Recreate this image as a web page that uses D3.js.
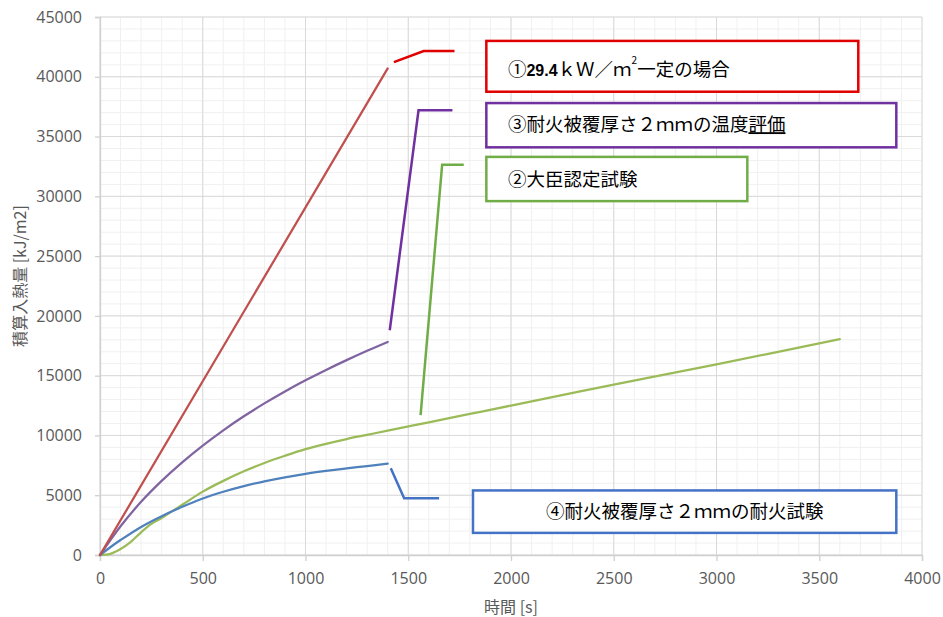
<!DOCTYPE html>
<html>
<head>
<meta charset="utf-8">
<script src="https://cdn.jsdelivr.net/npm/d3@7"></script>
<style>
  body { margin: 0; background: #fff; }
  .tick text { font-family: "Open Sans", "Noto Sans", sans-serif; font-size: 16px; fill: #595959; }
  .label { font-family: "Noto Sans CJK JP", sans-serif; fill: #000; }
</style>
</head>
<body>
<script>
// 時間 [s]
var redTime = [0, 1400];
var redHeat = [0, 40700];

var purpleTime = [0, 100, 200, 300, 400, 500, 600, 700, 800, 900, 1000, 1100, 1200, 1300, 1400];
var purpleHeat = [0, 2400, 4450, 6200, 7750, 9150, 10430, 11600, 12680, 13680, 14610, 15480, 16300, 17080, 17820];

var greenTime = [0, 50, 100, 150, 200, 250, 300, 400, 500, 600, 700, 800, 900, 1000, 1100, 1200, 1300, 1400, 1600, 1800, 2000, 2500, 3000, 3600];
var greenHeat = [0, 100, 500, 1100, 1900, 2600, 3100, 4200, 5300, 6200, 7000, 7700, 8300, 8850, 9300, 9700, 10050, 10400, 11100, 11800, 12500, 14250, 15950, 18050];

var blueTime = [0, 50, 100, 200, 300, 400, 500, 600, 700, 800, 900, 1000, 1100, 1200, 1300, 1400];
var blueHeat = [0, 650, 1250, 2350, 3250, 4030, 4730, 5290, 5760, 6160, 6500, 6790, 7030, 7240, 7440, 7650];

var xTicks = [0, 500, 1000, 1500, 2000, 2500, 3000, 3500, 4000];
var yTicks = [0, 5000, 10000, 15000, 20000, 25000, 30000, 35000, 40000, 45000];

var width = 943, height = 617;
var margin = {top: 17, right: 21, bottom: 62, left: 100};

var svg = d3.select("body").append("svg")
  .attr("width", width)
  .attr("height", height);

var x = d3.scaleLinear().domain([0, 4000]).range([margin.left, width - margin.right]);
var y = d3.scaleLinear().domain([0, 45000]).range([height - margin.bottom, margin.top]);

// minor grid
svg.append("g").selectAll("line")
  .data(d3.range(0, 4001, 100))
  .enter().append("line")
  .attr("x1", function(d) { return x(d); })
  .attr("x2", function(d) { return x(d); })
  .attr("y1", y(0)).attr("y2", y(45000))
  .attr("stroke", "#f0f0f0");
svg.append("g").selectAll("line")
  .data(d3.range(0, 45001, 1000))
  .enter().append("line")
  .attr("y1", function(d) { return y(d); })
  .attr("y2", function(d) { return y(d); })
  .attr("x1", x(0)).attr("x2", x(4000))
  .attr("stroke", "#f0f0f0");

// major grid
svg.append("g").selectAll("line")
  .data(xTicks)
  .enter().append("line")
  .attr("x1", function(d) { return x(d); })
  .attr("x2", function(d) { return x(d); })
  .attr("y1", y(0)).attr("y2", y(45000))
  .attr("stroke", "#d9d9d9");
svg.append("g").selectAll("line")
  .data(yTicks)
  .enter().append("line")
  .attr("y1", function(d) { return y(d); })
  .attr("y2", function(d) { return y(d); })
  .attr("x1", x(0)).attr("x2", x(4000))
  .attr("stroke", "#d9d9d9");

// axes
var xAxis = svg.append("g")
  .attr("transform", "translate(0," + y(0) + ")")
  .call(d3.axisBottom(x).tickValues(xTicks).tickSize(6).tickPadding(12).tickFormat(d3.format("d")));
var yAxis = svg.append("g")
  .attr("transform", "translate(" + x(0) + ",0)")
  .call(d3.axisLeft(y).tickValues(yTicks).tickSize(5).tickPadding(13).tickFormat(d3.format("d")));
svg.selectAll(".domain").attr("stroke", "#d0d0d0").attr("stroke-width", 1.3);
svg.selectAll(".tick line").attr("stroke", "#d0d0d0").attr("stroke-width", 1.3);

// axis titles
svg.append("text")
  .attr("x", (x(0) + x(4000)) / 2)
  .attr("y", 613)
  .attr("text-anchor", "middle")
  .style("font-family", "'Noto Sans CJK JP', sans-serif")
  .style("font-size", "16px")
  .style("fill", "#595959")
  .text("時間 [s]");
svg.append("text")
  .attr("transform", "translate(26," + 276 + ") rotate(-90)")
  .attr("text-anchor", "middle")
  .style("font-family", "'Noto Sans CJK JP', sans-serif")
  .style("font-size", "16px")
  .style("fill", "#595959")
  .text("積算入熱量 [kJ/m2]");

// series
var line = d3.line()
  .x(function(d) { return x(d[0]); })
  .y(function(d) { return y(d[1]); })
  .curve(d3.curveCatmullRom.alpha(0.5));

function series(t, v, color) {
  svg.append("path")
    .datum(d3.zip(t, v))
    .attr("d", line)
    .attr("fill", "none")
    .attr("stroke", color)
    .attr("stroke-width", 2.25)
    .attr("stroke-linecap", "round");
}
series(greenTime, greenHeat, "#9bbb59");
series(blueTime, blueHeat, "#4f81bd");
series(purpleTime, purpleHeat, "#8064a2");
series(redTime, redHeat, "#c0504d");

// callouts (leader line in data units, box, text)
function leader(pts, color) {
  svg.append("path")
    .attr("d", d3.line().x(function(d) { return x(d[0]); }).y(function(d) { return y(d[1]); })(pts))
    .attr("fill", "none")
    .attr("stroke", color)
    .attr("stroke-width", 2.5);
}
function box(x0, y0, x1, y1, color) {
  svg.append("rect")
    .attr("x", x(x0)).attr("y", y(y0))
    .attr("width", x(x1) - x(x0)).attr("height", y(y1) - y(y0))
    .attr("fill", "#fff")
    .attr("stroke", color)
    .attr("stroke-width", 2.5);
}

leader([[1430, 41230], [1575, 42150], [1725, 42150]], "#e00000");
box(1880, 43000, 3690, 38750, "#e00000");
var t1 = svg.append("text").attr("class", "label")
  .attr("x", x(1985)).attr("y", y(40000) - 1)
  .style("font-size", "18.5px");
t1.append("tspan").text("①");
t1.append("tspan").style("font-family", "Arial, 'Liberation Sans', sans-serif").style("font-weight", "bold").style("font-size", "16px").text("29.4");
t1.append("tspan").text("ｋＷ／ｍ");
t1.append("tspan").attr("dy", -12).style("font-size", "10px").text("2");
t1.append("tspan").attr("dy", 12).text("一定の場合");

leader([[1410, 18800], [1550, 37200], [1715, 37200]], "#7030a0");
box(1880, 37800, 3875, 34100, "#7030a0");
var t2 = svg.append("text").attr("class", "label")
  .attr("x", x(1985)).attr("y", y(35950) + 6)
  .style("font-size", "18.5px");
t2.append("tspan").text("③耐火被覆厚さ２ｍｍの温度");
t2.append("tspan").style("text-decoration", "underline").text("評価");

leader([[1560, 11700], [1665, 32650], [1770, 32650]], "#70ad47");
box(1880, 33300, 3150, 29600, "#70ad47");
svg.append("text").attr("class", "label")
  .attr("x", x(1985)).attr("y", y(31400) + 6)
  .style("font-size", "18.5px")
  .text("②大臣認定試験");

leader([[1415, 7250], [1480, 4750], [1650, 4750]], "#4472c4");
box(1815, 5400, 3875, 1850, "#4472c4");
svg.append("text").attr("class", "label")
  .attr("x", x(2845)).attr("y", y(3600) + 6)
  .attr("text-anchor", "middle")
  .style("font-size", "18.5px")
  .text("④耐火被覆厚さ２ｍｍの耐火試験");
</script>
</body>
</html>
